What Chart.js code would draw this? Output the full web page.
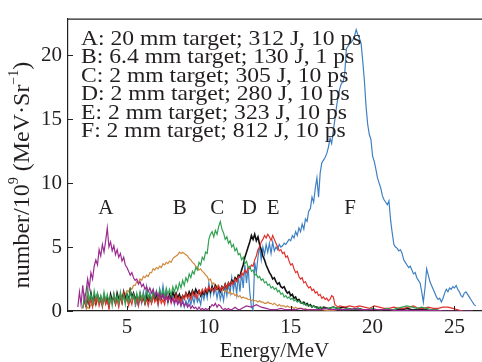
<!DOCTYPE html>
<html><head><meta charset="utf-8">
<script src="https://cdn.jsdelivr.net/npm/chart.js@4"></script>
<style>html,body{margin:0;padding:0;background:#fff;}#wrap{width:482px;height:362px;}</style>
</head><body><div id="wrap"><canvas id="c" width="482" height="362"></canvas></div>
<script>
// ---------- data ----------
const seriesNames = ['A','B','C','D','E','F'];
const legendLines = [
  'A: 20 mm target; 312 J, 10 ps',
  'B: 6.4 mm target; 130 J, 1 ps',
  'C: 2 mm target; 305 J, 10 ps',
  'D: 2 mm target; 280 J, 10 ps',
  'E: 2 mm target; 323 J, 10 ps',
  'F: 2 mm target; 812 J, 10 ps'
];
const peakLabelX = [3.71, 8.23, 10.51, 12.47, 13.93, 18.62];
const peakLabelY = 7.55;
const xTicks = [5,10,15,20,25];
const yTicks = [0,5,10,15,20];
const xTitle = 'Energy/MeV';

// core spectra sampled every 0.1 MeV from *Start, tails every 0.3 MeV from *TailStart
const aStart = 2.0;
const aCore = [0.3,1.5,0.5,2.0,0.8,1.5,2.5,1.8,3.0,2.5,
3.5,4.0,3.6,4.8,4.3,5.2,4.6,5.5,6.5,5.0,
5.4,4.7,5.1,4.4,4.8,4.2,4.5,3.9,4.2,3.6,
3.4,3.1,2.8,3.0,2.6,2.4,2.5,2.1,2.3,1.9,
2.1,1.7,1.9,1.5,1.8,1.4,1.7,1.2,1.5,1.1,
1.4,1.0,1.3,0.9,1.2,0.8,1.1,0.7,1.0,0.6,
0.9,0.5,0.8,0.4,0.7,0.4,0.6,0.3,0.5,0.2,
0.4,0.2,0.3,0.1,0.3,0.1,0.2,0.1,0.2,0.1,
0.2,0.3,0.5,0.4,0.6,0.3,0.5,0.4,0.2,0.1,
0.2,0.1,0.2,0.1,0.1,0.2,0.3,0.2,0.1,0.1,
0.2];
const aTailStart = 12.3;
const aTail = [0.4,0.3,0.5,0.3,0.2,0.1,0.1,0.2,0.1,0.1,
0.1,0.2,0.1,0.1,0.1,0.1,0.2,0.1,0.1,0.1,
0.1,0.1,0.2,0.1,0.1,0.1,0.1,0.1,0.1,0.1,
0.05,0.05,0.05,0.05,0.05,0.05,0.05,0.05,0.05,0.05,
0,0,0,0,0,0,0];

const bStart = 2.5;
const bCore = [0.1,0.3,0.2,0.5,0.4,0.6,0.5,0.8,0.6,0.9,
0.7,1.0,0.8,1.1,0.9,1.0,0.8,1.1,0.9,1.2,
1.0,1.3,1.1,1.4,1.3,1.6,1.5,1.8,1.7,2.0,
2.0,2.3,2.2,2.5,2.4,2.7,2.6,2.8,2.7,3.0,
3.0,3.3,3.2,3.4,3.3,3.5,3.4,3.7,3.6,3.8,
3.7,3.9,3.8,4.1,4.2,4.3,4.4,4.6,4.5,4.6,
4.5,4.4,4.3,4.1,4.0,3.8,3.7,3.5,3.4,3.2,
3.3,3.1,3.0,2.8,2.7,2.4,2.5,2.1,2.2,1.9,
2.0,1.7,1.8,1.6,1.7,1.5,1.6,1.4,1.5,1.3,
1.4,1.2,1.3,1.1,1.2,1.0,1.1,1.0,1.0,0.9,
0.9,0.8,0.9,0.8,0.8,0.7,0.8,0.7,0.7,0.6,
0.6,0.7,0.6,0.6,0.5,0.6,0.5,0.4,0.5,0.4,
0.4,0.4,0.3,0.4,0.3,0.3,0.3,0.2,0.3,0.2,
0.2,0.2,0.2,0.1,0.2,0.1];
const bTailStart = 16.3;
const bTail = [0.1,0.1,0.1,0.05,0.05,0];

const cStart = 2.3;
const cCore = [0.2,1.2,0.5,1.8,0.8,1.3,0.6,1.6,0.9,1.4,
0.7,1.2,0.5,1.5,0.8,1.3,0.6,1.1,0.4,1.4,
0.7,1.2,0.6,1.5,0.8,1.2,0.5,1.3,0.7,1.6,
0.9,1.3,0.6,1.4,0.8,1.5,0.9,1.3,0.7,1.6,
1.0,1.4,0.8,1.5,1.1,1.6,1.0,1.7,1.2,1.6,
1.1,1.8,1.3,1.7,1.2,1.9,1.5,2.0,1.6,2.2,
1.8,2.4,2.0,2.6,2.3,2.9,2.6,3.1,2.9,3.4,
3.2,3.8,3.6,4.2,4.0,4.6,4.5,5.6,6.0,6.2,
5.8,6.3,6.0,6.6,7.0,6.4,6.1,5.6,5.8,5.3,
5.5,5.0,5.2,4.7,4.9,4.4,4.5,4.0,4.2,3.7,
3.9,3.4,3.5,3.1,3.2,2.8,2.9,2.6,2.7,2.4,
2.5,2.2,2.3,2.0,2.1,1.8,1.9,1.7,1.8,1.5,
1.6,1.3,1.4,1.1,1.2,1.0,1.1,0.9,1.0,0.8,
0.9,0.7,0.8,0.6,0.7,0.5,0.6,0.4,0.5,0.4,
0.3,0.4,0.3,0.2,0.3,0.2,0.3,0.2];
const cTailStart = 17.3;
const cTail = [0.2,0.3,0.2,0.1,0.2,0.1,0.2,0.1,0.1,0.2,
0.1,0.1,0.2,0.1,0.2,0.3,0.4,0.3,0.2,0.3,
0.2,0.1,0.1,0];

const dStart = 2.5;
const dCore = [0.3,1.0,0.5,1.4,0.7,1.2,0.6,1.3,0.8,1.1,
0.5,1.2,0.7,1.0,0.4,1.3,0.8,1.1,0.6,1.4,
0.9,1.2,0.7,1.5,1.0,1.3,0.8,1.6,1.1,1.4,
0.9,1.2,0.7,1.3,0.8,1.1,0.6,1.2,0.8,1.1,
0.7,1.3,0.9,1.2,0.8,1.4,1.0,1.3,0.9,1.2,
0.8,1.3,1.0,1.5,1.1,1.4,1.0,1.3,0.9,1.2,
1.0,1.4,1.1,1.5,1.2,1.6,1.3,1.7,1.4,1.6,
1.2,1.5,1.3,1.7,1.4,1.8,1.5,1.9,1.6,2.0,
1.7,1.8,1.5,1.9,1.7,2.1,1.8,2.2,2.0,2.4,
2.2,2.6,2.4,2.8,2.7,3.2,3.6,4.2,4.6,5.0,
5.4,5.9,5.6,6.0,5.5,5.8,5.2,4.8,4.3,4.0,
3.6,3.3,3.0,2.8,2.5,2.6,2.3,2.1,2.2,1.9,
1.8,1.9,1.6,1.4,1.5,1.2,1.3,1.0,1.1,0.8,
0.9,0.7,0.6,0.7,0.5,0.6,0.4,0.5,0.3,0.4,
0.3,0.3,0.2,0.3,0.2,0.3];
const dTailStart = 17.3;
const dTail = [0.2,0.3,0.2,0.3,0.2,0.1,0.2,0.1,0.1,0.1,
0.1,0.1,0.1,0,0.1,0.1,0.2,0.1,0.1,0.1,
0.1,0,0,0];

const eStart = 2.3;
const eCore = [0.2,0.8,0.3,1.1,0.5,0.9,0.3,1.0,0.6,1.2,
0.4,0.9,0.3,1.1,0.5,0.8,0.2,1.0,0.6,1.3,
0.5,0.9,0.3,1.1,0.6,1.4,0.7,1.0,0.4,0.9,
0.5,1.2,0.6,1.0,0.4,1.1,0.7,1.3,0.6,0.9,
0.4,1.0,0.6,1.2,0.7,1.0,0.5,1.1,0.6,0.9,
0.5,1.2,0.8,1.1,0.6,1.0,0.7,1.3,0.8,1.1,
0.7,1.2,0.9,1.4,1.0,1.3,0.9,1.5,1.1,1.4,
1.0,1.6,1.3,1.7,1.4,1.8,1.5,1.9,1.6,1.8,
1.5,1.9,1.7,2.0,1.6,1.9,1.7,2.1,1.8,2.2,
2.0,2.3,2.1,2.5,2.3,2.7,2.6,3.0,2.8,3.2,
3.0,3.4,3.3,3.6,3.5,4.0,4.3,4.8,5.0,5.4,
5.6,5.9,5.7,6.0,5.8,5.5,5.9,5.6,5.3,5.0,
4.7,4.8,4.5,4.6,4.2,4.3,3.9,3.6,3.7,3.3,
3.0,3.1,2.7,2.5,2.6,2.2,2.3,2.0,1.8,1.9,
1.6,1.7,1.4,1.5,1.2,1.3,1.0,1.1,0.9,1.0,
0.8,0.9,1.2,1.1,0.5,0.4,0.3,0.4];
const eTailStart = 18.3;
const eTail = [0.3,0.4,0.3,0.4,0.3,0.2,0.4,0.3,0.2,0.2,
0.3,0.2,0.2,0.3,0.4,0.2,0.2,0.3,0.2,0.2,
0.3,0.3,0.2,0.1,0];

const fStart = 5.5;
const fCore = [0.3,0.8,0.4,1.2,0.6,1.5,0.8,1.9,1.0,1.4,
0.7,1.6,0.9,1.3,0.5,1.7,1.0,2.0,1.1,1.5,
0.6,1.3,0.8,1.1,0.5,1.2,0.6,1.0,0.4,0.9,
0.3,0.8,0.4,1.0,0.5,1.1,0.6,1.3,0.7,1.0,
0.5,1.4,0.9,1.6,1.0,2.2,1.2,2.0,1.3,1.8,
1.0,1.7,0.9,1.5,0.8,1.9,1.2,2.1,1.4,2.6,
1.6,2.4,1.3,2.8,1.5,3.0,1.8,3.6,2.2,3.4,
1.5,0.3,0.1,3.8,3.0,4.2,5.1,4.0,5.0,4.4,
5.2,4.6,5.3,4.5,5.4,4.7,5.0,4.8,5.2,5.0,
5.1,5.3,5.2,5.4,5.6,5.5,5.9,5.7,6.2,5.9,
6.5,6.2,6.8,6.4,7.2,7.0,7.8,8.0,8.9,8.5,
9.6,10.4,8.9,10.8,11.6,11.8,12.0,12.3,12.8,13.5,
13.1,14.1,15.0,16.0,16.8,17.4,17.8,17.9,18.6,20.5,
20.7,20.9,21.0,21.2,21.5,22.0,21.6,21.3,20.9,19.5,
18.0,16.0,14.6,13.8,13.4,12.1,11.7,11.1,10.4,10.0,
9.6,9.0,8.7,8.5,8.3,8.6,7.1,6.1,5.2,5.0,
4.9,4.7,4.8,4.5,4.0,3.8,3.6,3.4,3.5,3.2,
2.9,3.0,2.6,2.4,2.2,1.5,0.7,1.8,3.3,2.8,
2.3,2.0,1.7,1.4,1.1,0.9,1.0,0.7,1.0,1.4,
1.7,1.5,1.8,1.7,1.9,1.8,2.0,1.7,1.5,1.2,
1.1,1.4,1.5,1.3,1.1,0.9,0.7,0.5,0.4];

// ---------- build ----------
function pts(start, step, vals){
  return vals.map((v,i)=>({x: Math.round((start + i*step)*100)/100, y: v}));
}
const FONT = "'Liberation Serif', 'Times New Roman', serif";
const TXT = '#231f20';
const seriesA = pts(aStart,0.1,aCore).concat(pts(aTailStart,0.3,aTail));
const seriesB = pts(bStart,0.1,bCore).concat(pts(bTailStart,0.3,bTail));
const seriesC = pts(cStart,0.1,cCore).concat(pts(cTailStart,0.3,cTail));
const seriesD = pts(dStart,0.1,dCore).concat(pts(dTailStart,0.3,dTail));
const seriesE = pts(eStart,0.1,eCore).concat(pts(eTailStart,0.3,eTail));
const seriesF = pts(fStart,0.1,fCore);

function ds(label, data, color, w){
  return {label, data, borderColor: color, backgroundColor: color, borderWidth: w,
          pointRadius: 0, tension: 0, fill: false};
}
// index 0 is drawn on top
const datasets = [
  ds('A', seriesA, '#9c2b90', 1.2),
  ds('C', seriesC, '#32a153', 1.2),
  ds('E', seriesE, '#e0322c', 1.2),
  ds('D', seriesD, '#111111', 1.6),
  ds('B', seriesB, '#d18a3f', 1.2),
  ds('F', seriesF, '#3f80c2', 1.2)
];

const decor = {
  id: 'decor',
  afterDraw(chart){
    const {ctx, chartArea: ca, scales: {x, y}} = chart;
    ctx.save();
    // top frame line
    ctx.strokeStyle = '#222'; ctx.lineWidth = 1.2;
    ctx.beginPath(); ctx.moveTo(ca.left, ca.top + 0.5); ctx.lineTo(ca.right + 1, ca.top + 0.5); ctx.stroke();
    // inward ticks
    ctx.lineWidth = 1;
    yTicks.forEach(v => { const p = Math.round(y.getPixelForValue(v)) + 0.5;
      ctx.beginPath(); ctx.moveTo(ca.left, p); ctx.lineTo(ca.left + 5, p); ctx.stroke(); });
    xTicks.forEach(v => { const p = Math.round(x.getPixelForValue(v)) + 0.5;
      ctx.beginPath(); ctx.moveTo(p, ca.bottom); ctx.lineTo(p, ca.bottom - 5); ctx.stroke(); });
    // legend text
    ctx.fillStyle = TXT;
    ctx.font = '22px ' + FONT;
    ctx.textBaseline = 'alphabetic';
    ctx.textAlign = 'left';
    legendLines.forEach((t, i) => {
      ctx.save();
      ctx.translate(ca.left + 13, ca.top + 26.3 + i * 18.5);
      ctx.scale(1.074, 1);
      ctx.fillText(t, 0, 0);
      ctx.restore();
    });
    // peak letters
    ctx.font = '21px ' + FONT;
    ctx.textAlign = 'center';
    seriesNames.forEach((n, i) => ctx.fillText(n, x.getPixelForValue(peakLabelX[i]), y.getPixelForValue(peakLabelY)));
    // y title with superscripts
    const big = 24, small = 14;
    const parts = [['number/10', big, 0], ['9', small, 1], [' (MeV\u00b7Sr', big, 0], ['\u22121', small, 1], [')', big, 0]];
    let total = 0;
    parts.forEach(p => { ctx.font = p[1] + 'px ' + FONT; total += ctx.measureText(p[0]).width; });
    ctx.translate(23, 175);
    ctx.rotate(-Math.PI / 2);
    ctx.textAlign = 'left'; ctx.textBaseline = 'middle';
    let cx = -total / 2;
    parts.forEach(p => { ctx.font = p[1] + 'px ' + FONT;
      ctx.fillText(p[0], cx, p[2] ? -9 : 0); cx += ctx.measureText(p[0]).width; });
    ctx.restore();
  }
};

new Chart(document.getElementById('c'), {
  type: 'line',
  data: { datasets },
  options: {
    responsive: false, animation: false, devicePixelRatio: 1,
    layout: { padding: { left: 0, right: 1, top: 7, bottom: 0 } },
    plugins: { legend: { display: false }, tooltip: { enabled: false } },
    elements: { point: { radius: 0 } },
    scales: {
      x: {
        type: 'linear', min: 1.4, max: 26.62,
        afterBuildTicks: s => { s.ticks = xTicks.map(v => ({ value: v })); },
        afterFit: s => { s.height = 51; },
        grid: { drawOnChartArea: false, drawTicks: false },
        border: { display: true, color: '#222', width: 1.2 },
        ticks: { padding: 4, color: TXT, font: { family: FONT, size: 21 }, maxRotation: 0, autoSkip: false },
        title: { display: true, text: xTitle, color: TXT, padding: 0, font: { family: FONT, size: 21, lineHeight: 1 } }
      },
      y: {
        type: 'linear', min: 0, max: 22.86,
        afterBuildTicks: s => { s.ticks = yTicks.map(v => ({ value: v })); },
        afterFit: s => { s.width = 68; },
        grid: { drawOnChartArea: false, drawTicks: false },
        border: { display: true, color: '#222', width: 1.2 },
        ticks: { padding: 6, color: TXT, font: { family: FONT, size: 21 }, autoSkip: false }
      }
    }
  },
  plugins: [decor]
});
</script></body></html>
